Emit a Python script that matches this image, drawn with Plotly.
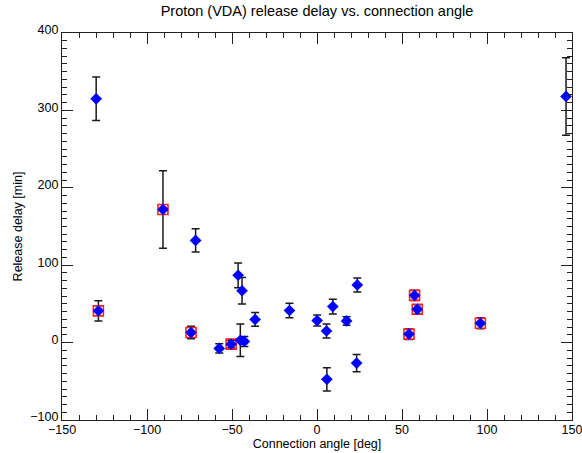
import plotly.graph_objects as go

# Data
angle = [-129.9, -128.6, -90.6, -71.4, -74.1, -57.5, -50.5, -46.4, -44.1, -45.1,
         -42.7, -36.4, -16.2, 0.1, 5.6, 9.3, 5.8, 17.4, 23.7, 23.3,
         54.1, 57.4, 59.0, 96.1, 146.5]
delay = [315, 41, 172, 132, 13, -7.5, -2, 87, 67, 3,
         1.5, 30, 41.5, 28.5, 15, 46.5, -47.5, 28, 74.5, -26.5,
         11, 61, 43, 25, 318]
err = [28, 13, 50, 15, 8, 6, 5, 16, 17, 21,
       6.5, 9, 9.5, 7, 9, 9.5, 15, 5.5, 9, 11,
       7, 6.5, 6, 7, 50]
flagged = [False, True, True, False, True, False, True, False, False, False,
           False, False, False, False, False, False, False, False, False, False,
           True, True, True, True, False]

fa = [a for a, f in zip(angle, flagged) if f]
fd = [d for d, f in zip(delay, flagged) if f]

FONT = "Liberation Sans, Arial, Helvetica, sans-serif"
TICKC = "#222222"

fig = go.Figure()
fig.add_trace(go.Scatter(
    x=angle, y=delay, mode="markers",
    marker=dict(size=0.1, color="rgba(0,0,0,0)"),
    error_y=dict(type="data", array=err, visible=True, color="#1a1a1a",
                 thickness=1.5, width=4),
    showlegend=False, hoverinfo="skip", cliponaxis=False))
fig.add_trace(go.Scatter(
    x=fa, y=fd, mode="markers",
    marker=dict(symbol="square-open", size=10, color="#ff2020",
                line=dict(width=1.6, color="#ff2020")),
    showlegend=False, cliponaxis=False))
fig.add_trace(go.Scatter(
    x=angle, y=delay, mode="markers",
    marker=dict(symbol="diamond", size=9, color="#0000ff",
                line=dict(width=0)),
    showlegend=False, cliponaxis=False))

axis_common = dict(
    showline=True, linecolor="#222222", linewidth=1.2, mirror="allticks",
    ticks="inside", ticklen=11, tickwidth=1.4, tickcolor=TICKC,
    showgrid=False, zeroline=False, automargin=False, layer="above traces",
    ticklabeloverflow="allow",
    tickfont=dict(family=FONT, size=12.5, color="black"),
)
minor_common = dict(ticks="inside", ticklen=5, tickwidth=1.4, tickcolor=TICKC)

fig.update_xaxes(
    range=[-150, 150], dtick=50, tick0=-150,
    minor=dict(dtick=10, **minor_common),
    ticklabelstandoff=-2,
    title=dict(text="Connection angle [deg]", font=dict(family=FONT, size=12.5, color="black"), standoff=0),
    **axis_common)
fig.update_yaxes(
    range=[-100, 400], dtick=100, tick0=-100,
    minor=dict(dtick=10, **minor_common),
    ticklabelshift=-3,
    title=dict(text="Release delay [min]", font=dict(family=FONT, size=12.5, color="black"), standoff=4),
    **axis_common)

fig.update_layout(
    width=582, height=453,
    margin=dict(l=62, r=10, t=33, b=33),
    paper_bgcolor="white", plot_bgcolor="white",
    title=dict(text="Proton (VDA) release delay vs. connection angle",
               x=0.5, xref="paper", xanchor="center", y=0.976, yanchor="middle",
               font=dict(family=FONT, size=14.5, color="black")),
)

fig.write_html("out.html", config={"displayModeBar": False},
               post_script="document.body.style.margin='0';document.body.style.overflow='hidden';")
